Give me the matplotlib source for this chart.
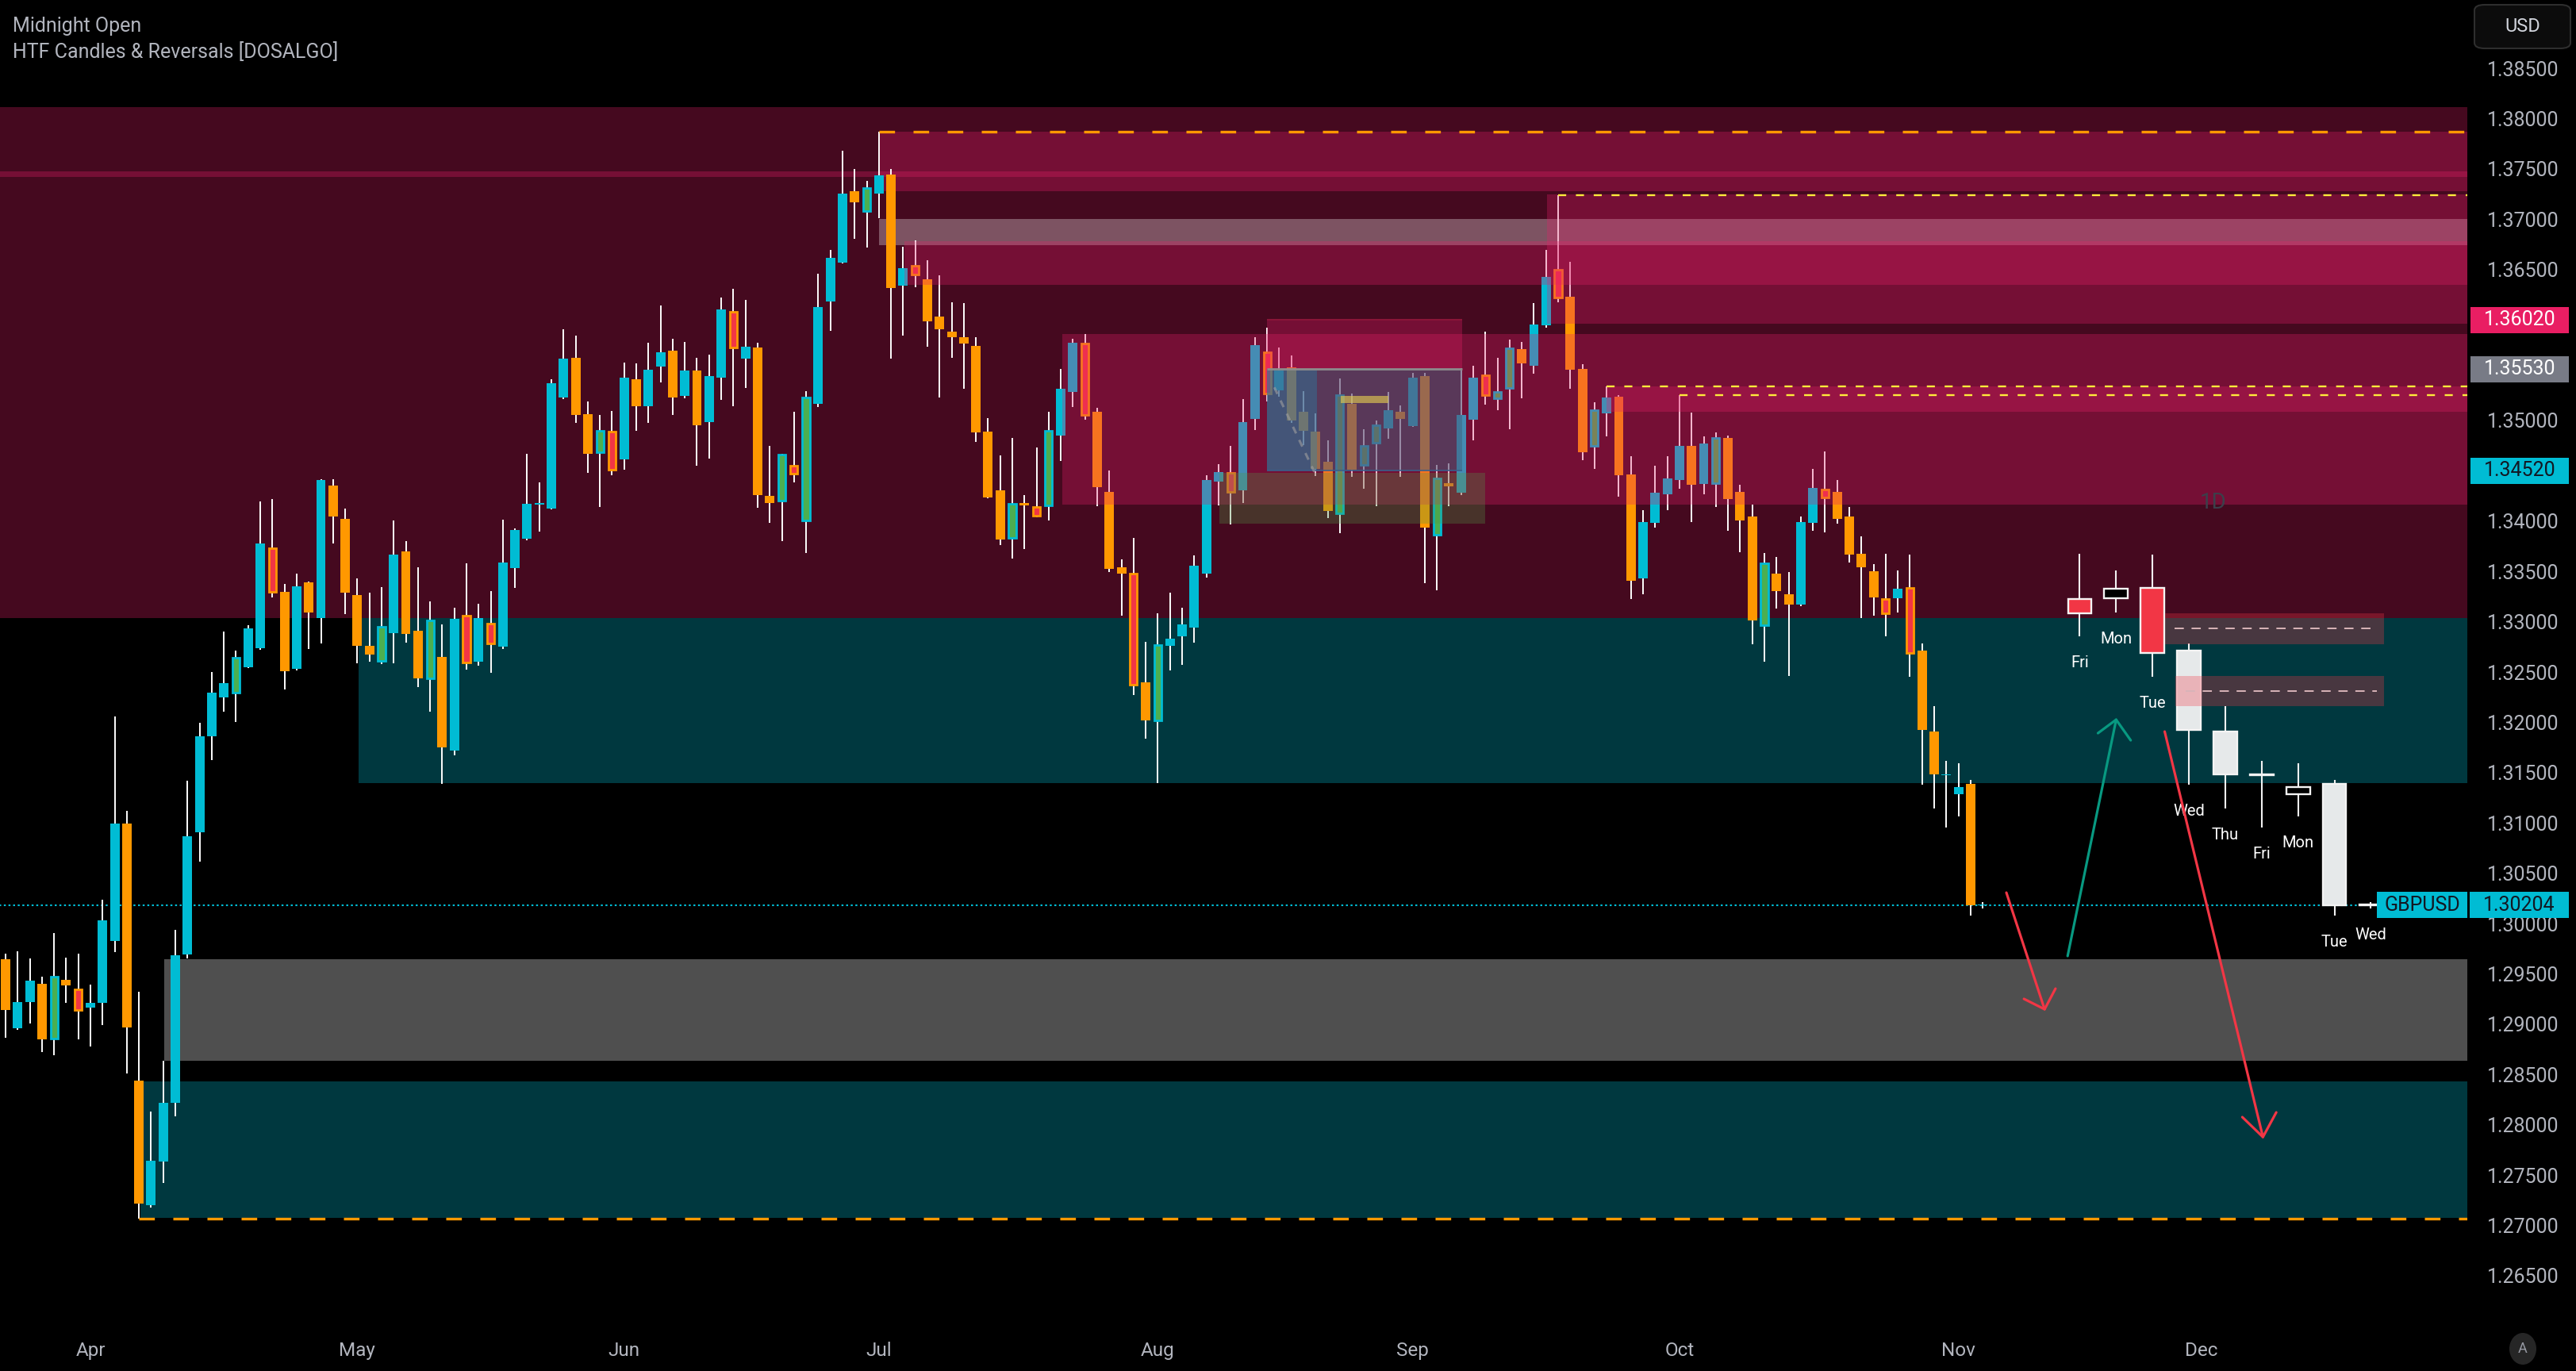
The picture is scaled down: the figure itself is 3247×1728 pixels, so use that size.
import numpy as np
import pandas as pd
import matplotlib
matplotlib.use("Agg")
import matplotlib.pyplot as plt
from matplotlib.patches import Rectangle, FancyBboxPatch, Ellipse
from matplotlib import transforms

plt.rcParams['font.family'] = ['Roboto', 'DejaVu Sans']

# ---------------- data: GBPUSD daily, 21 Mar 2025 -> 5 Nov 2025 (bar 0 = 1 Apr) ----------------
first_bar = -7
opens = [1.29664, 1.28980, 1.29237, 1.29422, 1.28875, 1.29462, 1.29362,
         1.29181, 1.29229, 1.29845, 1.31015, 1.28457, 1.27218, 1.27652, 1.28235, 1.29712, 1.30927,
         1.31884, 1.32267, 1.32315, 1.32565, 1.32758, 1.33751, 1.33317, 1.32553, 1.33409, 1.33059,
         1.34371, 1.34041, 1.33285, 1.32778, 1.32629, 1.32907, 1.33719, 1.32931, 1.32456, 1.32669,
         1.31743, 1.33076, 1.32625, 1.33003, 1.32770, 1.33554, 1.33844, 1.34186, 1.34146, 1.35252,
         1.35642, 1.35083, 1.34701, 1.34910, 1.34636, 1.35433, 1.35159, 1.35554, 1.35715, 1.35264,
         1.35513, 1.35003, 1.35445, 1.36097, 1.35634, 1.35747, 1.34274, 1.34226, 1.34568, 1.34025,
         1.35184, 1.36205, 1.36588, 1.37296, 1.37103, 1.37275, 1.37465, 1.36358, 1.36555, 1.36427,
         1.36049, 1.35900, 1.35851, 1.35763, 1.34910, 1.34323, 1.33852, 1.34198, 1.34158, 1.34174,
         1.34870, 1.35300, 1.35787, 1.35103, 1.34311, 1.33562, 1.33494, 1.32416, 1.32040, 1.32782,
         1.32874, 1.32961, 1.33497, 1.34412, 1.34496, 1.34327, 1.35037, 1.35697, 1.35321, 1.35545,
         1.35106, 1.34909, 1.34609, 1.34094, 1.35182, 1.34580, 1.34796, 1.34943, 1.35103, 1.34966,
         1.35461, 1.33884, 1.34393, 1.34304, 1.35030, 1.35471, 1.35242, 1.35340, 1.35729, 1.35562,
         1.35968, 1.36519, 1.36250, 1.35534, 1.34769, 1.35091, 1.35256, 1.34487, 1.33448, 1.34004,
         1.34284, 1.34426, 1.34767, 1.34387, 1.34396, 1.34849, 1.34306, 1.34064, 1.32987, 1.33498,
         1.33290, 1.33190, 1.34004, 1.34336, 1.34306, 1.34069, 1.33697, 1.33525, 1.33245, 1.33254,
         1.33358, 1.32733, 1.31932, 1.31495, 1.31307, 1.31411, 1.30210]
highs = [1.29720, 1.29744, 1.29672, 1.29491, 1.29925, 1.29684, 1.29724,
         1.29410, 1.30255, 1.32077, 1.31140, 1.29342, 1.28151, 1.28654, 1.29953, 1.31442, 1.32013,
         1.32516, 1.32919, 1.32730, 1.32987, 1.34214, 1.34238, 1.33393, 1.33494, 1.33422, 1.34435,
         1.34435, 1.34146, 1.33450, 1.33309, 1.33365, 1.34025, 1.33820, 1.33562, 1.33221, 1.32991,
         1.33160, 1.33598, 1.33196, 1.33325, 1.34033, 1.33945, 1.34689, 1.34403, 1.35433, 1.35928,
         1.35867, 1.35212, 1.35071, 1.35111, 1.35594, 1.35586, 1.35795, 1.36165, 1.35835, 1.35803,
         1.35642, 1.35674, 1.36238, 1.36326, 1.36217, 1.35795, 1.34765, 1.34689, 1.35103, 1.35312,
         1.36479, 1.36716, 1.37702, 1.37521, 1.37404, 1.37887, 1.37517, 1.36749, 1.36809, 1.36612,
         1.36459, 1.36193, 1.36185, 1.35847, 1.35043, 1.34669, 1.34850, 1.34278, 1.34749, 1.35103,
         1.35534, 1.35835, 1.35880, 1.35143, 1.34524, 1.33639, 1.33852, 1.32816, 1.33100, 1.33308,
         1.33158, 1.33678, 1.34476, 1.34585, 1.34767, 1.35232, 1.35847, 1.35942, 1.35745, 1.35663,
         1.35311, 1.35090, 1.34822, 1.35434, 1.35287, 1.34930, 1.35019, 1.35303, 1.35169, 1.35492,
         1.35492, 1.34577, 1.34593, 1.35537, 1.35561, 1.35900, 1.35642, 1.35821, 1.35800, 1.36189,
         1.36716, 1.37263, 1.36600, 1.35582, 1.35200, 1.35356, 1.35271, 1.34668, 1.34126, 1.34568,
         1.34665, 1.35271, 1.35096, 1.34864, 1.34900, 1.34870, 1.34381, 1.34186, 1.33706, 1.33661,
         1.33516, 1.34069, 1.34538, 1.34710, 1.34426, 1.34159, 1.33865, 1.33593, 1.33697, 1.33530,
         1.33688, 1.32801, 1.32181, 1.31638, 1.31615, 1.31448, 1.30234]
lows = [1.28887, 1.28960, 1.29028, 1.28746, 1.28714, 1.29229, 1.28867,
        1.28799, 1.29008, 1.29740, 1.28533, 1.27085, 1.27200, 1.27439, 1.28103, 1.29672, 1.30637,
        1.31643, 1.32126, 1.32025, 1.32557, 1.32740, 1.33261, 1.32343, 1.32537, 1.32746, 1.32806,
        1.33800, 1.33092, 1.32605, 1.32625, 1.32597, 1.32609, 1.32810, 1.32367, 1.32126, 1.31410,
        1.31695, 1.32545, 1.32585, 1.32508, 1.32750, 1.33353, 1.33832, 1.33912, 1.34140, 1.35232,
        1.34999, 1.34500, 1.34158, 1.34476, 1.34528, 1.34918, 1.34999, 1.35401, 1.35071, 1.35240,
        1.34568, 1.34641, 1.35224, 1.35159, 1.35345, 1.34154, 1.34005, 1.33824, 1.34407, 1.33703,
        1.35151, 1.35908, 1.36580, 1.36829, 1.36740, 1.37034, 1.35634, 1.35863, 1.36346, 1.35755,
        1.35252, 1.35646, 1.35332, 1.34809, 1.34246, 1.33784, 1.33651, 1.33743, 1.34057, 1.34025,
        1.34620, 1.35151, 1.35031, 1.34166, 1.33510, 1.33079, 1.32295, 1.31856, 1.31417, 1.32535,
        1.32593, 1.32811, 1.33460, 1.34178, 1.33986, 1.34199, 1.34927, 1.35208, 1.35256, 1.34993,
        1.34774, 1.34467, 1.34052, 1.33902, 1.34462, 1.34343, 1.34165, 1.34835, 1.34462, 1.34960,
        1.33402, 1.33331, 1.34165, 1.34280, 1.34822, 1.35177, 1.35124, 1.34932, 1.35242, 1.35481,
        1.35940, 1.36197, 1.35332, 1.34628, 1.34536, 1.34864, 1.34260, 1.33245, 1.33290, 1.33958,
        1.34131, 1.34345, 1.34010, 1.34284, 1.34161, 1.33922, 1.33708, 1.32792, 1.32620, 1.33154,
        1.32484, 1.33177, 1.33922, 1.33910, 1.33998, 1.33607, 1.33055, 1.33077, 1.32873, 1.33109,
        1.32475, 1.31398, 1.31162, 1.30972, 1.31085, 1.30098, 1.30166]
closes = [1.29161, 1.29241, 1.29450, 1.28867, 1.29491, 1.29402, 1.29161,
          1.29229, 1.30054, 1.31015, 1.28984, 1.27238, 1.27660, 1.28235, 1.29704, 1.30887, 1.31884,
          1.32315, 1.32408, 1.32665, 1.32955, 1.33796, 1.33313, 1.32528, 1.33373, 1.33108, 1.34427,
          1.34065, 1.33309, 1.32778, 1.32697, 1.32971, 1.33687, 1.32898, 1.32456, 1.33031, 1.31772,
          1.33047, 1.32613, 1.33055, 1.32806, 1.33607, 1.33932, 1.34190, 1.34198, 1.35393, 1.35634,
          1.35071, 1.34689, 1.34918, 1.34528, 1.35445, 1.35159, 1.35525, 1.35699, 1.35252, 1.35513,
          1.34970, 1.35461, 1.36125, 1.35743, 1.35755, 1.34278, 1.34198, 1.34677, 1.34488, 1.35248,
          1.36145, 1.36636, 1.37276, 1.37191, 1.37332, 1.37457, 1.36338, 1.36535, 1.36471, 1.36004,
          1.35924, 1.35851, 1.35787, 1.34902, 1.34254, 1.33840, 1.34194, 1.34178, 1.34077, 1.34918,
          1.35337, 1.35795, 1.35071, 1.34355, 1.33542, 1.33494, 1.32396, 1.32040, 1.32784, 1.32850,
          1.32992, 1.33573, 1.34427, 1.34506, 1.34312, 1.35003, 1.35768, 1.35290, 1.35513, 1.35019,
          1.34919, 1.34540, 1.34120, 1.35269, 1.34533, 1.34769, 1.34974, 1.35121, 1.35037, 1.35442,
          1.33954, 1.34447, 1.34362, 1.35072, 1.35442, 1.35269, 1.35300, 1.35734, 1.35589, 1.35976,
          1.36447, 1.36238, 1.35525, 1.34701, 1.35119, 1.35252, 1.34472, 1.33426, 1.34010, 1.34299,
          1.34441, 1.34767, 1.34381, 1.34788, 1.34849, 1.34239, 1.34025, 1.33032, 1.33598, 1.33326,
          1.33190, 1.34014, 1.34348, 1.34251, 1.34040, 1.33684, 1.33562, 1.33258, 1.33100, 1.33349,
          1.32711, 1.31941, 1.31502, 1.31505, 1.31380, 1.30203, 1.30204]
# u = up, d = down, g = bullish reversal, r = bearish reversal
kinds = ("duudgdr" "uuudduuuuu" "uuguurdudu" "ddddguddgd" "ururuuuuuu" "ddgruduudu"
         "duuruddgrg" "uuudgudurd" "ddddddgdrg" "uurdddrdgu" "uuuuruurud" "dddgdggudu"
         "dgduurggdu" "urddgudduu" "uudugdddgd" "duurddddru" "rdduudu")

# price zones: start bar, low, high
supply_start = [-10.0, -10.0, 65.0]
supply_low = [1.33055, 1.37437, 1.37296]
supply_high = [1.38136, 1.37497, 1.37887]
mitig_start, mitig_low, mitig_high = 65.0, 1.36762, 1.37022
front_start = [67.1, 80.1, 120.1, 125.0]
front_low = [1.36370, 1.34186, 1.35984, 1.35106]
front_high = [1.36801, 1.35876, 1.37267, 1.35358]
demand_start = [22.1, 4.1]
demand_low = [1.31415, 1.27096]
demand_high = [1.33055, 1.28452]
gap_start, gap_low, gap_high = 6.1, 1.28655, 1.29665

# August range boxes
range_left, range_right = 97.0, 113.1
range_top, range_mid, range_bottom = 1.36020, 1.35530, 1.34520
base_left, base_right, base_low, base_high = 93.1, 115.0, 1.33994, 1.34499
bar_left, bar_right, bar_low, bar_high = 103.1, 107.0, 1.35195, 1.35262
sweep_path_k = [97.6, 100.9]
sweep_path_p = [1.35349, 1.34508]

# swing-high / swing-low levels
orange_levels = [1.37887, 1.27088]
orange_start = [65.0, 4.0]
yellow_levels = [1.37260, 1.35359, 1.35271]
yellow_start = [121.0, 125.0, 131.0]

# HTF imbalance boxes
htf_box_start = [171.0, 171.9]
htf_box_end = 189.1
htf_box_low = [1.32799, 1.32180]
htf_box_high = [1.33107, 1.32480]
htf_box_mid = [1.32957, 1.32332]

# hand drawn arrows: shaft (from, to) and head arms
arrows = [
    {'shaft': [(157.95, 1.30327), (161.1, 1.29168)], 'head': [(159.4, 1.29271), (161.1, 1.29168), (162.0, 1.29373)], 'color': '#f23645'},
    {'shaft': [(163.0, 1.29697), (167.0, 1.32046)], 'head': [(165.5, 1.31912), (167.0, 1.32046), (168.2, 1.31841)], 'color': '#089981'},
    {'shaft': [(171.0, 1.31928), (179.1, 1.27898)], 'head': [(177.4, 1.28096), (179.1, 1.27898), (180.2, 1.28143)], 'color': '#f23645'},
]

axis_badges = [1.36020, 1.35530, 1.34520]
axis_badge_colors = ['#e91e63', '#787b86', '#00bcd4']
axis_badge_text = ['white', 'white', '#131722']

# ---------------- layout ----------------
W, H = 3248, 1728
CRIM = '#e6206a'
CYAN = '#00bcd4'
ORANGE = '#ff9800'
GREY_TXT = '#b2b5be'
XR = 195.95

fig = plt.figure(figsize=(W / 100, H / 100), dpi=100, facecolor='black')
ax = fig.add_axes([0, 56 / H, 3110 / W, 1672 / H])
ax.set_facecolor('black')
ax.set_xlim(-7.456, XR)
ax.set_ylim(1.26014, 1.39199)
for s in ax.spines.values():
    s.set_visible(False)
ax.set_yticks([])

def box(x0, x1, lo, hi, z, **kw):
    ax.add_patch(Rectangle((x0, lo), x1 - x0, hi - lo, lw=0, zorder=z, **kw))

# zones behind the candles
for s0, lo, hi in zip(supply_start, supply_low, supply_high):
    box(s0, XR, lo, hi, 1, fc=CRIM, alpha=0.3)
box(mitig_start, XR, mitig_low, mitig_high, 1.1, fc='white', alpha=0.3)
for s0, lo, hi in zip(demand_start, demand_low, demand_high):
    box(s0, XR, lo, hi, 1, fc=CYAN, alpha=0.3)
box(gap_start, XR, gap_low, gap_high, 1, fc='#4f4f4f')

# price line
last = closes[-1]
ax.hlines(last, -7.5, 188.6, colors=CYAN, lw=1.5, ls=(0, (1.2, 1.6)), zorder=2.5)

# daily candles
o = np.array(opens); h = np.array(highs); l = np.array(lows); c = np.array(closes)
xs = np.arange(len(o)) + first_bar
kk = np.array(list(kinds))
face_map = {'u': CYAN, 'd': ORANGE, 'g': '#4caf50', 'r': '#f23645'}
edge_map = {'u': CYAN, 'd': ORANGE, 'g': CYAN, 'r': ORANGE}
blo = np.minimum(o, c)
bh = np.maximum(np.abs(c - o), 0.00008)
ax.vlines(xs, l, h, colors='white', lw=1.4, zorder=3)
plain = np.isin(kk, ['u', 'd'])
ax.bar(xs[plain], bh[plain], 0.78, bottom=blo[plain],
       color=[face_map[k] for k in kk[plain]], lw=0, zorder=4)
ax.bar(xs[~plain], bh[~plain], 0.60, bottom=blo[~plain],
       color=[face_map[k] for k in kk[~plain]],
       edgecolor=[edge_map[k] for k in kk[~plain]], lw=2.0, zorder=4)

# zones drawn over the candles
for s0, lo, hi in zip(front_start, front_low, front_high):
    box(s0, XR, lo, hi, 5, fc=CRIM, alpha=0.3)

# august range structure
box(range_left, range_right, range_mid, range_top, 5.1, fc=CRIM, alpha=0.3)
ax.hlines(range_top, range_left, range_right, colors='#8a1538', lw=1.5, zorder=5.2)
box(range_left, range_right, range_bottom, range_mid, 5.2, fc='#3f617e', alpha=0.5)
box(range_left, 101.1, range_bottom, range_mid, 5.3, fc='#1e8cb4', alpha=0.35)
ax.hlines(range_mid, range_left, range_right, colors='#8c8c8c', lw=2, zorder=5.4)
ax.hlines(range_bottom, range_left, range_right, colors='#3a5f8a', lw=1.2, zorder=5.4)
box(base_left, base_right, base_low, base_high, 5.3, fc='#509646', alpha=0.3)
box(bar_left, bar_right, bar_low, bar_high, 5.5, fc='#e0c850', alpha=0.65)
ax.plot(sweep_path_k, sweep_path_p, color='#a0a0a0', alpha=0.6, lw=2.2,
        ls=(0, (3, 3)), zorder=5.5)

# dashed levels
for lv, s0 in zip(orange_levels, orange_start):
    ax.hlines(lv, s0, XR, colors=ORANGE, lw=2.4, ls=(0, (5.9, 7.0)), zorder=7)
for lv, s0 in zip(yellow_levels, yellow_start):
    ax.hlines(lv, s0, XR, colors='#ffeb3b', lw=1.7, ls=(0, (4.3, 5.2)), zorder=7)

ax.text(175.0, 1.34207, '1D', color='#3b3f4a', fontsize=20, ha='center', va='center', zorder=5.5)

# HTF candles (last 9 daily bars, projected to the right)
dates = pd.bdate_range('2025-03-21', periods=len(o))
hx = 164 + 3 * np.arange(9)
ho, hh, hl, hc, hk = o[-9:], h[-9:], l[-9:], c[-9:], kk[-9:]
htf_face = {'u': '#000000', 'd': '#e6e9ea', 'r': '#f23645', 'g': '#4caf50'}
ax.vlines(hx, hl, hh, colors='#f2f2f2', lw=1.5, zorder=3.9)
ax.bar(hx, np.maximum(np.abs(hc - ho), 0.00008), 1.95, bottom=np.minimum(ho, hc),
       color=[htf_face[k] for k in hk], edgecolor='#f4f4f4', lw=1.7, zorder=4)
for x, lo, dname in zip(hx, hl, dates[-9:].strftime('%a')):
    ax.annotate(dname, (x, lo), xytext=(0, -24), textcoords='offset points',
                ha='center', va='center', color='white', fontsize=14.5, zorder=6)

for s0, lo, hi, mid in zip(htf_box_start, htf_box_low, htf_box_high, htf_box_mid):
    box(s0, htf_box_end, lo, hi, 6, fc='#f23645', alpha=0.3)
    ax.hlines(mid, s0 + 0.8, htf_box_end - 0.6, colors='#d8b4b8', lw=1.4,
              ls=(0, (6, 5)), zorder=6.1)

for a in arrows:
    (x0, y0), (x1, y1) = a['shaft']
    ax.plot([x0, x1], [y0, y1], color=a['color'], lw=2.3, zorder=8, solid_capstyle='round')
    ax.plot([p[0] for p in a['head']], [p[1] for p in a['head']], color=a['color'],
            lw=2.3, zorder=8, solid_capstyle='round', solid_joinstyle='round')

# time axis
cal = pd.bdate_range('2025-03-21', '2025-12-31')
kcal = np.arange(len(cal)) + first_bar
is_first = np.r_[True, cal.month[1:] != cal.month[:-1]] & (kcal >= 0)
ax.set_xticks(kcal[is_first])
ax.set_xticklabels(cal[is_first].strftime('%b'))
ax.tick_params(axis='x', length=0, pad=14, labelsize=17.5, labelcolor=GREY_TXT)

# price scale
bt = transforms.blended_transform_factory(fig.transFigure, ax.transData)
hh_px = 0.0013
for v in np.arange(1.265, 1.3851, 0.005):
    fig.text(3180 / W, v, f'{v:.5f}', transform=bt, ha='center', va='center',
             color=GREY_TXT, fontsize=18, zorder=3)

def badge(x0, x1, v, fc, txt, tc):
    fig.add_artist(Rectangle((x0 / W, v - hh_px), (x1 - x0) / W, 2 * hh_px,
                             transform=bt, fc=fc, lw=0, zorder=10))
    fig.text((x0 + x1) / 2 / W, v, txt, transform=bt, ha='center', va='center',
             color=tc, fontsize=18, zorder=11)

for v, fc, tc in zip(axis_badges, axis_badge_colors, axis_badge_text):
    badge(3114, 3238, v, fc, f'{v:.5f}', tc)
badge(3113, 3238, last, CYAN, f'{last:.5f}', '#131722')
badge(2996, 3110, last, CYAN, 'GBPUSD', '#131722')

# header & widgets
fig.text(16 / W, 1 - 40 / H, 'Midnight Open', color=GREY_TXT, fontsize=18, va='baseline')
fig.text(16 / W, 1 - 73 / H, 'HTF Candles & Reversals [DOSALGO]', color=GREY_TXT,
         fontsize=18, va='baseline')
fig.add_artist(FancyBboxPatch((3119 / W, 1 - 61 / H), 121 / W, 55 / H,
                              boxstyle='round,pad=0,rounding_size=0.004',
                              transform=fig.transFigure, fc='#0c0c0c', ec='#2e2e2e', lw=1.5))
fig.text(3180 / W, 1 - 33 / H, 'USD', ha='center', va='center', color='#d1d4dc', fontsize=17)
fig.add_artist(Ellipse((3180 / W, 1 - 1700 / H), 34 / W, 40 / H, transform=fig.transFigure,
                       fc='#262626', lw=0))
fig.text(3180 / W, 1 - 1700 / H, 'A', ha='center', va='center', color='#9598a1', fontsize=13)

fig.savefig('out.png', dpi=100, facecolor='black')
